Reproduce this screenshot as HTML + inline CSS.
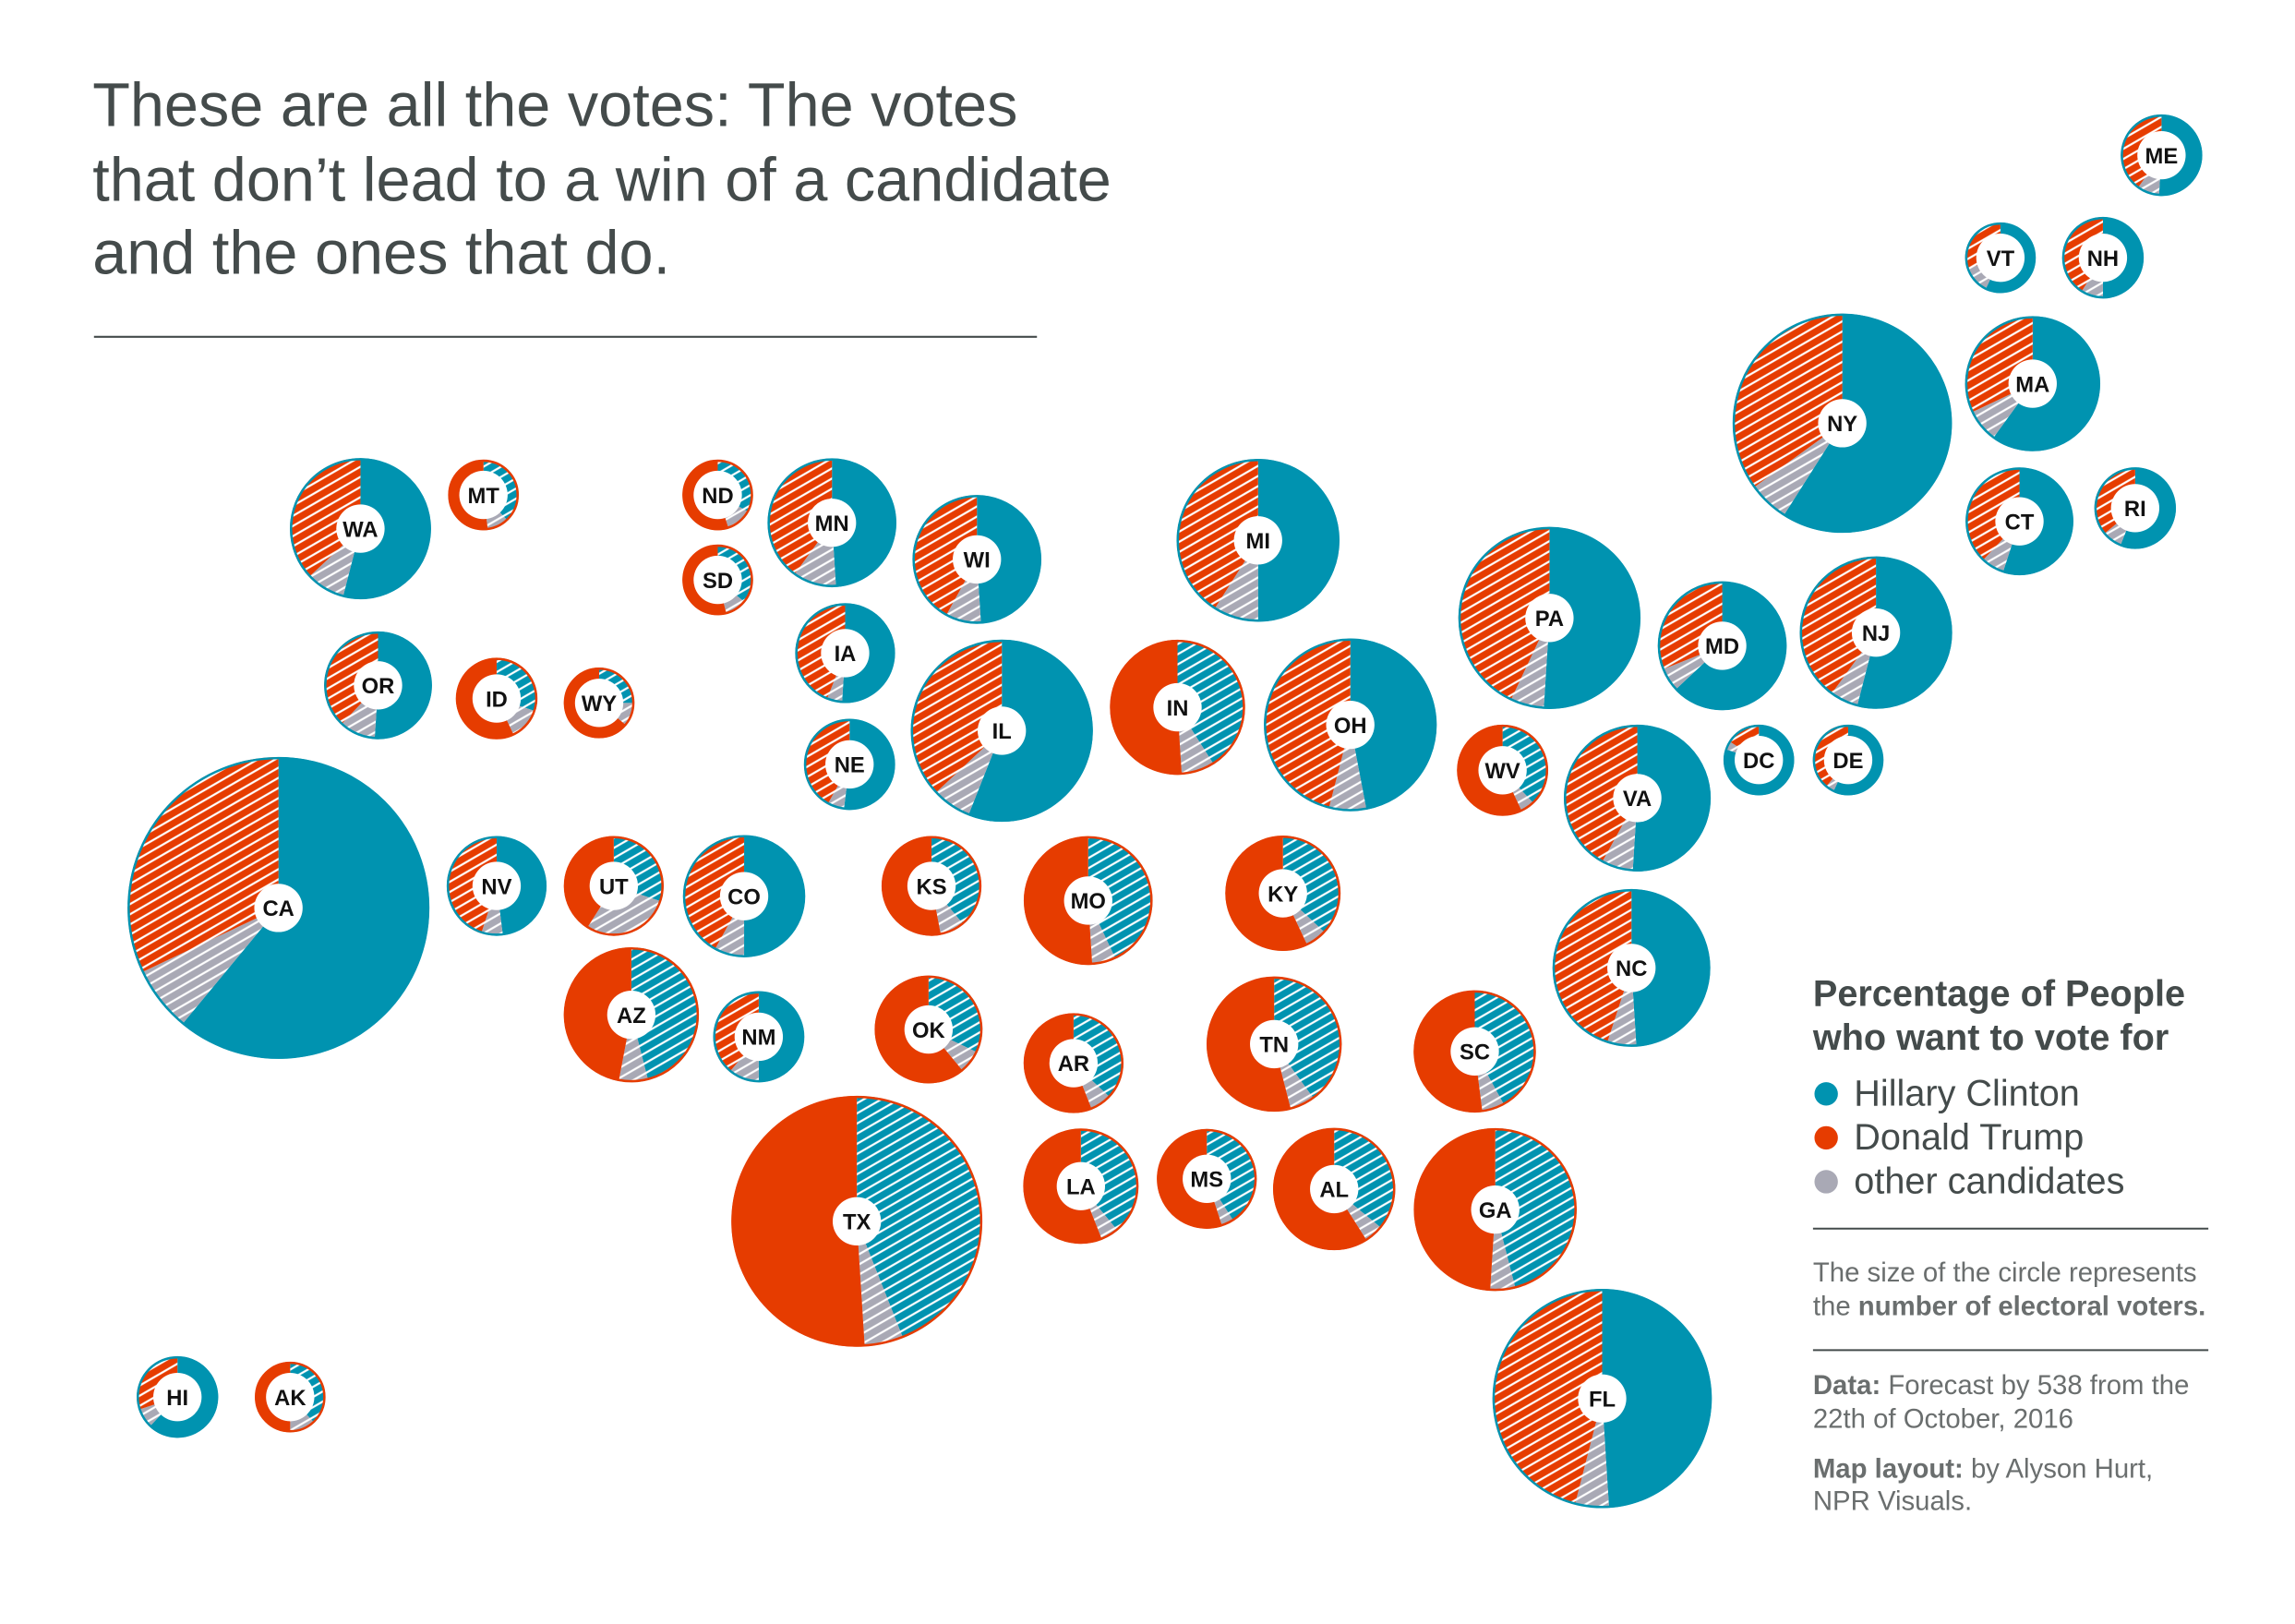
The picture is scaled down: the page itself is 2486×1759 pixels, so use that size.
<!DOCTYPE html>
<html><head><meta charset="utf-8"><style>
html,body{margin:0;padding:0;background:#fff;}
svg{display:block;font-family:"Liberation Sans",Arial,sans-serif;}
</style></head><body>
<svg id="chart" width="2486" height="1759" viewBox="0 0 1567 1109" xmlns="http://www.w3.org/2000/svg">
<defs>
<pattern id="hatch-c" patternUnits="userSpaceOnUse" width="6" height="6" patternTransform="rotate(-30)"><rect width="6" height="6" fill="#0093b0"/><line x1="0" y1="3" x2="6" y2="3" stroke="#fff" stroke-width="1.4"/></pattern>
<pattern id="hatch-t" patternUnits="userSpaceOnUse" width="6" height="6" patternTransform="rotate(-30)"><rect width="6" height="6" fill="#e63c00"/><line x1="0" y1="3" x2="6" y2="3" stroke="#fff" stroke-width="1.4"/></pattern>
<pattern id="hatch-o" patternUnits="userSpaceOnUse" width="6" height="6" patternTransform="rotate(-30)"><rect width="6" height="6" fill="#a9a9b5"/><line x1="0" y1="3" x2="6" y2="3" stroke="#fff" stroke-width="1.4"/></pattern>
</defs>
<g fill="#444b4b" font-size="42">
<text x="63" y="86">These are all the votes: The votes</text>
<text x="63" y="137">that don’t lead to a win of a candidate</text>
<text x="63" y="187">and the ones that do.</text>
</g>
<line x1="64" y1="230" x2="708" y2="230" stroke="#444b4b" stroke-width="1.3"/>
<g id="pies"></g>
<g>
<text x="1238" y="687" font-size="25" font-weight="bold" fill="#444b4b">Percentage of People</text>
<text x="1238" y="717" font-size="25" font-weight="bold" fill="#444b4b">who want to vote for</text>
<g><circle cx="1247" cy="747" r="8" fill="#0093b0"/><text x="1266" y="755" font-size="25" fill="#444b4b">Hillary Clinton</text></g>
<g><circle cx="1247" cy="777" r="8" fill="#e63c00"/><text x="1266" y="785" font-size="25" fill="#444b4b">Donald Trump</text></g>
<g><circle cx="1247" cy="807" r="8" fill="#a9a9b5"/><text x="1266" y="815" font-size="25" fill="#444b4b">other candidates</text></g>
<line x1="1238" y1="839" x2="1508" y2="839" stroke="#444b4b" stroke-width="1.3"/>
<text x="1238" y="875" font-size="18.5" fill="#6a6e6e">The size of the circle represents</text>
<text x="1238" y="898" font-size="18.5" fill="#6a6e6e">the <tspan font-weight="bold">number of electoral voters.</tspan></text>
<line x1="1238" y1="922" x2="1508" y2="922" stroke="#444b4b" stroke-width="1.3"/>
<text x="1238" y="952" font-size="18.5" fill="#6a6e6e"><tspan font-weight="bold">Data:</tspan> Forecast by 538 from the</text>
<text x="1238" y="975" font-size="18.5" fill="#6a6e6e">22th of October, 2016</text>
<text x="1238" y="1009" font-size="18.5" fill="#6a6e6e"><tspan font-weight="bold">Map layout:</tspan> by Alyson Hurt,</text>
<text x="1238" y="1031" font-size="18.5" fill="#6a6e6e">NPR Visuals.</text>
</g>
</svg>
<script>
const states = ["WA","MT","ND","MN","WI","MI","SD","OR","ID","WY","IA","IL","IN","OH","PA","NY","ME","VT","NH","MA","CT","RI","NJ","MD","DE","DC","VA","WV","NE","CA","NV","UT","CO","KS","MO","KY","NC","AZ","NM","OK","AR","TN","SC","TX","LA","MS","AL","GA","FL","HI","AK"];
const electoralVotes = [12,3,3,10,10,16,3,7,4,3,6,20,11,18,20,29,4,3,4,11,7,4,14,10,3,3,13,5,5,55,6,6,9,6,10,8,15,11,5,7,6,11,9,38,8,6,9,16,29,4,3];
const clinton = [54,38,33,49,49,50,36,51,30,25,51,56,41,47,51,59,51,57,50,60,55,56,54,63,57,80,51,38,52,61,48,30,50,39,43,37,49,46,50,32,37,40,42,44,39,41,36,46,49,62,38];
const trump = [37,52,55,40,42,41,54,38,57,64,44,37,51,46,43,35,40,30,41,32,38,36,40,31,39,16,42,57,42,32,45,41,42,53,51,57,45,47,39,61,56,54,52,51,56,55,59,49,46,30,50];
const other = [9,10,12,11,9,9,10,11,13,11,5,7,8,7,6,6,9,13,9,8,7,8,6,6,4,4,7,5,6,7,7,29,8,8,6,6,6,7,11,7,7,6,6,5,5,4,5,5,5,8,12];
// map tile layout (cartogram positions)
const tileX = [246,330,490,568,667,859,490,258,339,409,577,684,804,922,1058,1258,1476,1366,1436,1388,1379,1458,1281,1176,1262,1201,1118,1026,580,190,339,419,508,636,743,876,1114,431,518,634,733,870,1007,585,738,824,911,1021,1094,121,198];
const tileY = [361,338,338,357,382,369,396,468,477,480,446,499,483,495,422,289,106,176,176,262,356,347,432,441,519,519,545,526,522,620,605,605,612,605,615,610,661,693,708,703,726,713,718,834,810,805,812,826,955,954,954];

const NS = "http://www.w3.org/2000/svg";
const pies = document.getElementById("pies");
function radius(ev){ return 13.89*Math.sqrt(ev); }
function pt(cx,cy,r,a){ return [cx + r*Math.sin(a), cy - r*Math.cos(a)]; }
function wedge(cx,cy,r,a0,a1){
  if (a1-a0 >= 2*Math.PI-1e-6) return `M${cx},${cy-r}A${r},${r} 0 1 1 ${cx-0.01},${cy-r}Z`;
  const p0=pt(cx,cy,r,a0), p1=pt(cx,cy,r,a1);
  const large = (a1-a0)>Math.PI?1:0;
  return `M${cx},${cy}L${p0[0]},${p0[1]}A${r},${r} 0 ${large} 1 ${p1[0]},${p1[1]}Z`;
}
states.forEach((s,i)=>{
  const cx=tileX[i], cy=tileY[i], r=radius(electoralVotes[i]);
  const total = clinton[i]+trump[i]+other[i];
  const cWin = clinton[i] >= trump[i];
  const g=document.createElementNS(NS,"g");
  
  
  const parts=[[clinton[i], cWin?"#0093b0":"url(#hatch-c)","clinton"],[other[i],"url(#hatch-o)","other"],[trump[i], cWin?"url(#hatch-t)":"#e63c00","trump"]];
  let a=0;
  parts.forEach(p=>{
    const a1 = a + p[0]/total*2*Math.PI;
    const path=document.createElementNS(NS,"path");
    path.setAttribute("d",wedge(cx,cy,r,a,a1));
    path.setAttribute("fill",p[1]);
    
    
    g.appendChild(path);
    a=a1;
  });
  const ring=document.createElementNS(NS,"circle");
  ring.setAttribute("cx",cx);ring.setAttribute("cy",cy);ring.setAttribute("r",r-0.7);
  ring.setAttribute("fill","none");ring.setAttribute("stroke",cWin?"#0093b0":"#e63c00");ring.setAttribute("stroke-width","1.6");
  g.appendChild(ring);
  const hole=document.createElementNS(NS,"circle");
  hole.setAttribute("cx",cx);hole.setAttribute("cy",cy);hole.setAttribute("r",16.5);hole.setAttribute("fill","#fff");
  g.appendChild(hole);
  const t=document.createElementNS(NS,"text");
  t.setAttribute("x",cx);t.setAttribute("y",cy+5.5);t.setAttribute("text-anchor","middle");
  t.setAttribute("font-size","15");t.setAttribute("font-weight","bold");t.setAttribute("fill","#111");
  t.textContent=s;
  
  
  g.appendChild(t);
  pies.appendChild(g);
});
</script>
</body></html>
